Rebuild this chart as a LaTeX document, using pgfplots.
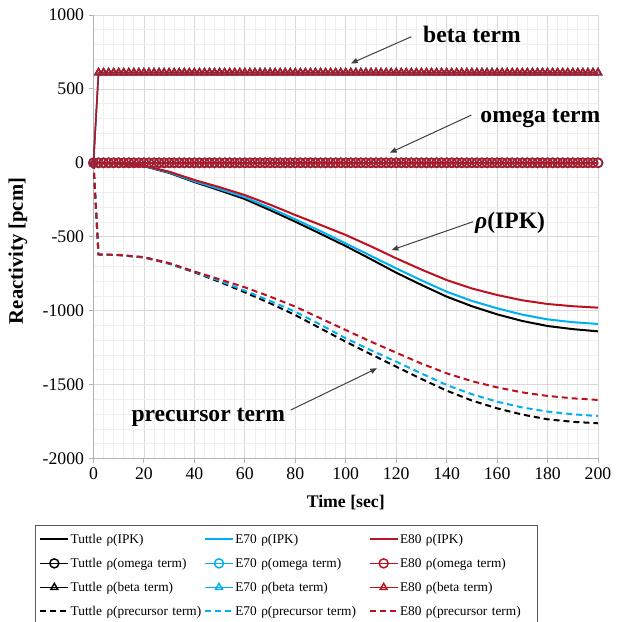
\documentclass[border=0pt]{standalone}
\usepackage{fontspec}
\setmainfont{Liberation Serif}
\usepackage{pgfplots}
\usepackage{pgfplotstable}
\pgfplotsset{compat=1.18}
\usetikzlibrary{arrows.meta}

\definecolor{tuttle}{RGB}{0,0,0}
\definecolor{esev}{RGB}{0,176,240}
\definecolor{eeig}{RGB}{190,16,30}
\definecolor{gridmaj}{RGB}{217,217,217}
\definecolor{gridmin}{RGB}{238,238,238}
\definecolor{annot}{RGB}{64,64,64}

% rho(IPK)
\pgfplotstableread{
t tuttle e70 e80
0 0 0 0
5 -2 -2 -2
10 -6 -6 -5
20 -22 -21 -19
30 -68 -65 -60
40 -130 -125 -116
50 -186 -178 -165
60 -245 -233 -218
70 -320 -305 -283
80 -398 -382 -353
90 -480 -462 -420
100 -563 -545 -488
110 -652 -630 -565
120 -743 -714 -646
130 -826 -795 -722
140 -905 -872 -793
150 -970 -934 -850
160 -1025 -984 -894
170 -1070 -1027 -930
180 -1104 -1059 -955
190 -1125 -1078 -970
200 -1140 -1090 -980
}\ipk

% rho(precursor term)
\pgfplotstableread{
t tuttle e70 e80
0 0 0 0
2 -620 -620 -620
10 -624 -624 -623
20 -640 -639 -638
30 -682 -680 -678
40 -740 -737 -735
50 -805 -798 -788
60 -876 -865 -842
70 -950 -934 -905
80 -1030 -1007 -973
90 -1120 -1095 -1052
100 -1210 -1187 -1131
110 -1295 -1268 -1210
120 -1379 -1345 -1284
130 -1462 -1425 -1358
140 -1541 -1503 -1424
150 -1608 -1565 -1477
160 -1661 -1616 -1519
170 -1703 -1655 -1553
180 -1735 -1683 -1577
190 -1752 -1701 -1593
200 -1762 -1713 -1604
}\prec

% rho(beta term) and rho(omega term), same for all three models
\pgfplotstableread{
t beta omega
0 0 0
2 610 0
4 610 0
6 610 0
8 610 0
10 610 0
12 610 0
14 610 0
16 610 0
18 610 0
20 610 0
22 610 0
24 610 0
26 610 0
28 610 0
30 610 0
32 610 0
34 610 0
36 610 0
38 610 0
40 610 0
42 610 0
44 610 0
46 610 0
48 610 0
50 610 0
52 610 0
54 610 0
56 610 0
58 610 0
60 610 0
62 610 0
64 610 0
66 610 0
68 610 0
70 610 0
72 610 0
74 610 0
76 610 0
78 610 0
80 610 0
82 610 0
84 610 0
86 610 0
88 610 0
90 610 0
92 610 0
94 610 0
96 610 0
98 610 0
100 610 0
102 610 0
104 610 0
106 610 0
108 610 0
110 610 0
112 610 0
114 610 0
116 610 0
118 610 0
120 610 0
122 610 0
124 610 0
126 610 0
128 610 0
130 610 0
132 610 0
134 610 0
136 610 0
138 610 0
140 610 0
142 610 0
144 610 0
146 610 0
148 610 0
150 610 0
152 610 0
154 610 0
156 610 0
158 610 0
160 610 0
162 610 0
164 610 0
166 610 0
168 610 0
170 610 0
172 610 0
174 610 0
176 610 0
178 610 0
180 610 0
182 610 0
184 610 0
186 610 0
188 610 0
190 610 0
192 610 0
194 610 0
196 610 0
198 610 0
200 610 0
}\terms

\begin{document}
\begin{tikzpicture}
\begin{axis}[
  scale only axis,
  width=378.4pt, height=332.6pt,
  xmin=0, xmax=200, ymin=-2000, ymax=1000,
  xtick={0,20,...,200}, ytick={-2000,-1500,...,1000},
  minor x tick num=4, minor y tick num=4,
  grid=both,
  major grid style={draw=gridmaj, line width=0.6pt},
  minor grid style={draw=gridmin, line width=0.5pt},
  axis lines*=left,
  axis line style={draw=black!30, line width=0.7pt, -},
  tick align=outside,
  major tick length=3.5pt, minor tick length=0pt,
  major tick style={draw=black!30, line width=0.7pt},
  scaled ticks=false,
  tick label style={font=\fontsize{13.3}{16}\selectfont},
  /pgf/number format/assume math mode=true,
  /pgf/number format/1000 sep={},
  xlabel={\bfseries Time [sec]},
  ylabel={\bfseries Reactivity [pcm]},
  xlabel style={font=\fontsize{13.3}{16}\selectfont, at={(axis description cs:0.5,-0.1)}, anchor=center},
  ylabel style={font=\fontsize{15.5}{18}\selectfont, at={(axis description cs:-0.1496,0.468)}, anchor=center},
  clip=false,
  legend columns=3,
  legend cell align=left,
  legend style={at={(axis description cs:-0.116,-0.150)}, anchor=north west,
    draw=black!65, line width=0.6pt, inner xsep=3pt, inner ysep=1.5pt,
    font=\fontsize{10}{12}\selectfont, row sep=0pt, column sep=0pt,
    nodes={inner xsep=1pt, inner ysep=0pt, text width=99pt, minimum height=18pt},
    column 6/.style={nodes={text width=160pt}}},
  legend image code/.code={
    \draw[mark repeat=2, mark phase=2] plot coordinates {(0pt,0pt) (10.5pt,0pt) (21pt,0pt)};
  },
  ipkline/.style={line width=1.5pt, mark=none},
  omegaline/.style={line width=1.1pt, mark=o, mark size=3.4pt},
  betaline/.style={line width=1.1pt, mark=triangle, mark size=3pt},
  precline/.style={line width=1.5pt, mark=none, dash pattern=on 4.5pt off 3pt},
]
\addplot[ipkline, tuttle] table[x=t, y=tuttle] {\ipk};
\addlegendentry{Tuttle ρ(IPK)}
\addplot[ipkline, esev] table[x=t, y=e70] {\ipk};
\addlegendentry{E70 ρ(IPK)}
\addplot[ipkline, eeig] table[x=t, y=e80] {\ipk};
\addlegendentry{E80 ρ(IPK)}

\addplot[omegaline, tuttle] table[x=t, y=omega] {\terms};
\addlegendentry{Tuttle ρ(omega term)}
\addplot[omegaline, esev] table[x=t, y=omega] {\terms};
\addlegendentry{E70 ρ(omega term)}
\addplot[omegaline, eeig] table[x=t, y=omega] {\terms};
\addlegendentry{E80 ρ(omega term)}

\addplot[betaline, tuttle] table[x=t, y=beta] {\terms};
\addlegendentry{Tuttle ρ(beta term)}
\addplot[betaline, esev] table[x=t, y=beta] {\terms};
\addlegendentry{E70 ρ(beta term)}
\addplot[betaline, eeig] table[x=t, y=beta] {\terms};
\addlegendentry{E80 ρ(beta term)}

\addplot[precline, tuttle] table[x=t, y=tuttle] {\prec};
\addlegendentry{Tuttle ρ(precursor term)}
\addplot[precline, esev] table[x=t, y=e70] {\prec};
\addlegendentry{E70 ρ(precursor term)}
\addplot[precline, eeig] table[x=t, y=e80] {\prec};
\addlegendentry{E80 ρ(precursor term)}

% annotations
\tikzset{ann/.style={anchor=west, inner sep=0pt, font=\fontsize{17.7}{20}\selectfont\bfseries},
         annarrow/.style={draw=annot, line width=0.75pt, -{Triangle[length=5pt, width=4pt]}}}
\node[ann] at (axis cs:130.6,871) {beta term};
\draw[annarrow] (axis cs:126,853) -- (axis cs:102.1,673);
\node[ann] at (axis cs:153.3,303) {omega term};
\draw[annarrow] (axis cs:149.8,323) -- (axis cs:117.5,68);
\node[ann] at (axis cs:151.2,-407) {\textit{ρ}(IPK)};
\draw[annarrow] (axis cs:150.5,-398) -- (axis cs:118.2,-590);
\node[ann] at (axis cs:15.0,-1722) {precursor term};
\draw[annarrow] (axis cs:78.2,-1672) -- (axis cs:112.4,-1390);
\end{axis}
\pgfresetboundingbox
\path[use as bounding box] (-70.1pt,-121.9pt) rectangle (405.4pt,343.85pt);
\end{tikzpicture}
\end{document}
